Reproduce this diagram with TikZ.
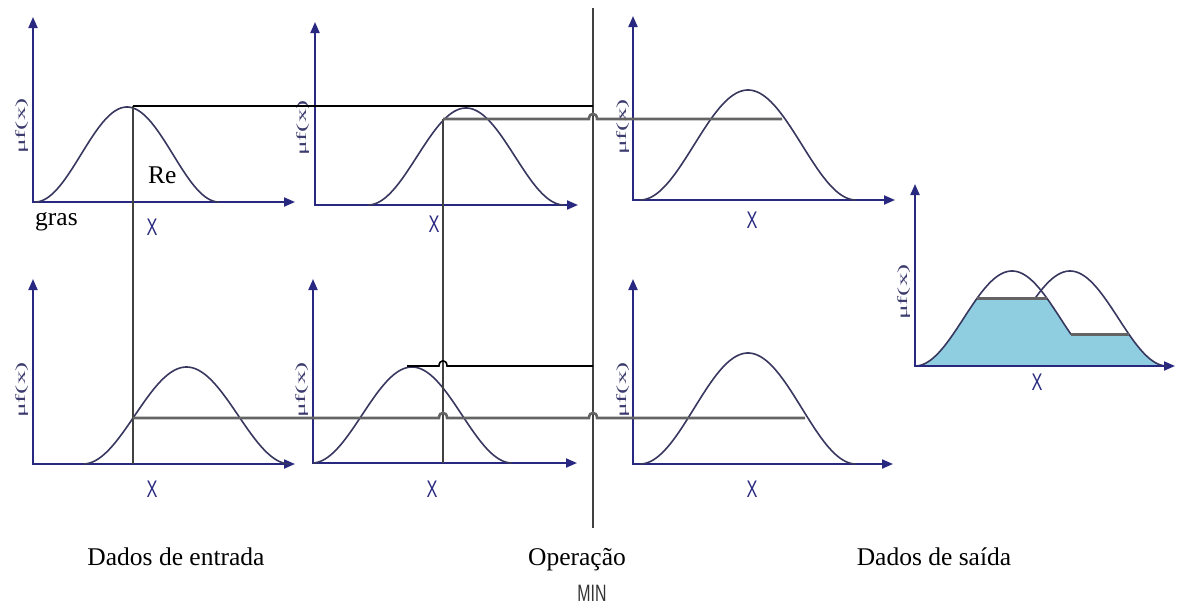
\documentclass[tikz,border=0pt]{standalone}
\usepackage{fontspec}
\setmainfont{Liberation Serif}
\newfontfamily\lsans{Liberation Sans}
\usetikzlibrary{arrows.meta}
\definecolor{axisblue}{RGB}{40,40,128}
\definecolor{curvecol}{RGB}{55,55,95}
\definecolor{labelcol}{RGB}{60,60,110}
\definecolor{cutgray}{RGB}{100,100,100}
\definecolor{vertgray}{RGB}{65,65,65}
\definecolor{fillblue}{RGB}{143,206,224}
\tikzset{
  declare function={bell(\x,\c,\w,\b,\h)=\b-\h*(1+cos(((\x-\c)/\w)*180))/2;},
  axisline/.style={draw=axisblue,line width=2pt,
    {Triangle[length=11pt,width=9pt,fill=axisblue]}-{Triangle[length=11pt,width=9pt,fill=axisblue]}},
  curve/.style={draw=curvecol,line width=1.6pt},
  blackline/.style={draw=black,line width=1.6pt},
  grayline/.style={draw=cutgray,line width=2.6pt},
  vline/.style={draw=vertgray,line width=1.3pt},
  mulabel/.style={rotate=90,inner sep=0pt,text=labelcol,font=\fontsize{14}{15}\selectfont},
  xlabel/.style={inner sep=0pt,text=axisblue,font=\lsans\fontsize{24}{26}\selectfont},
  caption/.style={inner sep=0pt,anchor=base,font=\fontsize{25.5}{30}\selectfont},
}
\newcommand\mufx{\scalebox{1.95}[1]{μf(x)}}
\newcommand\xlab{\scalebox{0.68}[1]{X}}
\begin{document}
\begin{tikzpicture}[x=1pt,y=-1pt]
\useasboundingbox (0,0) rectangle (1178,605);

% ---------- axes ----------
\draw[axisline] (33,17) -- (33,202) -- (295,202);
\draw[axisline] (315,22) -- (315,205) -- (578,205);
\draw[axisline] (633,16) -- (633,200) -- (895,200);
\draw[axisline] (33,279) -- (33,464) -- (295,464);
\draw[axisline] (313,279) -- (313,463) -- (577,463);
\draw[axisline] (633,279) -- (633,464) -- (893,464);
\draw[axisline] (915,184) -- (915,366) -- (1175,366);

% ---------- axis labels ----------
\node[mulabel] (m1) at (22,126) {\mufx};
\node[mulabel] (m2) at (303,128) {\mufx};
\node[mulabel] (m3) at (623,127) {\mufx};
\node[mulabel] (m4) at (22,390) {\mufx};
\node[mulabel] (m5) at (302,390) {\mufx};
\node[mulabel] (m6) at (623,390) {\mufx};
\node[mulabel] (m7) at (904,292) {\mufx};

\node[xlabel] (x1) at (152,227) {\xlab};
\node[xlabel] (x2) at (434,224) {\xlab};
\node[xlabel] (x3) at (752,220) {\xlab};
\node[xlabel] (x4) at (152,489) {\xlab};
\node[xlabel] (x5) at (432,489) {\xlab};
\node[xlabel] (x6) at (752,489) {\xlab};
\node[xlabel] (x7) at (1037,382) {\xlab};

% ---------- membership curves ----------
\draw[curve] plot[domain=35:219,samples=80] (\x,{bell(\x,127,92,202,95)});
\draw[curve] plot[domain=368:564,samples=80] (\x,{bell(\x,466,98,205,97)});
\draw[curve] plot[domain=640:856,samples=80] (\x,{bell(\x,748,108,200,110)});
\draw[curve] plot[domain=83:290,samples=80] (\x,{bell(\x,186.5,103.5,464,97)});
\draw[curve] plot[domain=313:512,samples=80] (\x,{bell(\x,412,100,463,96)});
\draw[curve] plot[domain=640:856,samples=80] (\x,{bell(\x,748,108,464,111)});

% ---------- output (aggregated) ----------
\fill[fillblue] (915,366)
  -- plot[domain=915:977,samples=40] (\x,{bell(\x,1012,97,366,95)})
  -- (1047,298.4)
  -- plot[domain=1047:1071,samples=20] (\x,{bell(\x,1012,97,366,95)})
  -- (1129,334.3)
  -- plot[domain=1129:1167,samples=30] (\x,{bell(\x,1070,97,366,95)})
  -- cycle;
\draw[curve] plot[domain=915:1071,samples=90] (\x,{bell(\x,1012,97,366,95)});
\draw[curve] plot[domain=1035:1167,samples=80] (\x,{bell(\x,1070,97,366,95)});
\coordinate (o1) at (977,298.4);
\coordinate (o2) at (1047,298.4);
\coordinate (o3) at (1071,334.3);
\coordinate (o4) at (1129,334.3);
\draw[grayline] (o1) -- (o2);
\draw[grayline] (o3) -- (o4);
\draw[axisline,-] (915,366) -- (1165,366);

% ---------- rule lines ----------
\coordinate (a1) at (133,106);
\coordinate (a2) at (133,464);
\coordinate (b1) at (443,119);
\coordinate (b2) at (443,463);
\coordinate (mintop) at (593,8);
\coordinate (minbot) at (593,528);
\draw[vline] (a1) -- (a2);
\draw[vline] (b1) -- (b2);
\draw[vline] (mintop) -- (minbot);

% top black: from peak of first rule to MIN line
\coordinate (t1) at (593,106);
\draw[blackline] (a1) -- (t1);
% top gray: min level carried to output
\coordinate (g1) at (782,119);
\draw[grayline] (b1) -- (589,119) .. controls (589,112) and (597,112) .. (597,119) -- (g1);
% bottom black
\coordinate (k0) at (407,366);
\coordinate (k1) at (593,366);
\draw[blackline] (k0) -- (439,366) .. controls (439,359) and (447,359) .. (447,366) -- (k1);
% bottom gray
\coordinate (h0) at (133,418);
\coordinate (h1) at (805,418);
\draw[grayline] (h0) -- (439,418) .. controls (439,411) and (447,411) .. (447,418)
  -- (589,418) .. controls (589,411) and (597,411) .. (597,418) -- (h1);

% ---------- texts ----------
\node[inner sep=0pt,anchor=base west,font=\fontsize{25.5}{30}\selectfont] (re) at (148,183) {Re};
\node[inner sep=0pt,anchor=base west,font=\fontsize{25.5}{30}\selectfont] (gr) at (35,225) {gras};
\node[caption] (c1) at (176,565) {Dados de entrada};
\node[caption] (c2) at (577,565) {Operação};
\node[caption] (c3) at (934,565) {Dados de saída};
\node[inner sep=0pt,text=black!80,font=\lsans\fontsize{23.7}{26}\selectfont] (min) at (592,593.5) {\scalebox{0.67}[1]{MIN}};
\end{tikzpicture}
\end{document}
